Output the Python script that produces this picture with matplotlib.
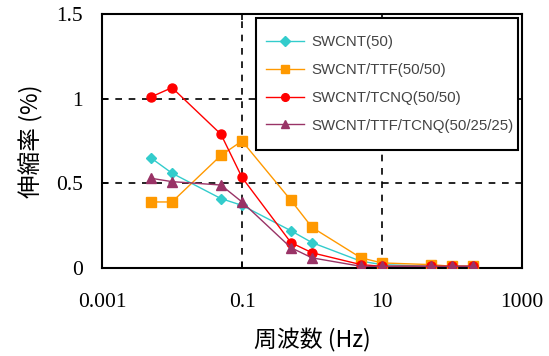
import matplotlib
matplotlib.use("Agg")
import matplotlib.pyplot as plt
from matplotlib.patches import Rectangle
from matplotlib.ticker import FixedLocator, NullLocator, FixedFormatter

freq = [0.005, 0.01, 0.05, 0.1, 0.5, 1, 5, 10, 50, 100, 200]
swcnt = [0.65, 0.56, 0.41, 0.37, 0.22, 0.15, 0.04, 0.02, 0.01, 0.01, 0.01]
swcnt_ttf = [0.39, 0.39, 0.665, 0.75, 0.40, 0.24, 0.06, 0.03, 0.02, 0.01, 0.01]
swcnt_tcnq = [1.01, 1.065, 0.79, 0.535, 0.15, 0.09, 0.02, 0.01, 0.01, 0.01, 0.01]
swcnt_ttf_tcnq = [0.53, 0.51, 0.49, 0.39, 0.12, 0.06, 0.01, 0.01, 0.01, 0.01, 0.01]

series_names = ["SWCNT(50)", "SWCNT/TTF(50/50)", "SWCNT/TCNQ(50/50)", "SWCNT/TTF/TCNQ(50/25/25)"]
xticks = [0.001, 0.1, 10, 1000]
xtick_labels = ["0.001", "0.1", "10", "1000"]
yticks = [0, 0.5, 1, 1.5]
ytick_labels = ["0", "0.5", "1", "1.5"]

W, H = 549, 356
fig = plt.figure(figsize=(W/100, H/100), dpi=100)
ax = fig.add_axes([102/W, 1-268/H, (522-102)/W, (268-14)/H])

styles = [
    dict(color="#33CCCC", marker="D", ms=5.5),
    dict(color="#FF9900", marker="s", ms=7),
    dict(color="#FF0000", marker="o", ms=6.5),
    dict(color="#993366", marker="^", ms=7),
]
for data, name, st in zip([swcnt, swcnt_ttf, swcnt_tcnq, swcnt_ttf_tcnq], series_names, styles):
    ax.plot(freq, data, color=st["color"], marker=st["marker"], ms=st["ms"],
            mec=st["color"], mfc=st["color"], lw=1.0, label=name, zorder=3)

ax.set_xscale("log")
ax.set_xlim(0.001, 1000)
ax.set_ylim(0, 1.5)
ax.xaxis.set_major_locator(FixedLocator(xticks))
ax.xaxis.set_major_formatter(FixedFormatter(xtick_labels))
ax.xaxis.set_minor_locator(NullLocator())
ax.yaxis.set_major_locator(FixedLocator(yticks))
ax.yaxis.set_major_formatter(FixedFormatter(ytick_labels))

ax.grid(True, which="major", color="black", linestyle=(0, (4, 4)), linewidth=1.2, zorder=1)
ax.set_axisbelow(True)

for s in ax.spines.values():
    s.set_linewidth(1.5)
    s.set_color("black")

ax.tick_params(direction="in", length=4, width=1.2, top=True, right=False, labelsize=15.5)
ax.tick_params(axis="x", pad=18)
ax.tick_params(axis="y", pad=14)
for lbl in ax.get_xticklabels() + ax.get_yticklabels():
    lbl.set_fontfamily("Liberation Serif")

ax.set_xlabel("周波数 (Hz)", fontsize=16.5, family=["Noto Sans CJK JP", "DejaVu Sans"], labelpad=12)
ax.set_ylabel("伸縮率 (%)", fontsize=17, family=["Noto Sans CJK JP", "DejaVu Sans"], labelpad=9)

# legend frame
frame = Rectangle((256/W, 1-150/H), (518-256)/W, (150-18)/H, transform=fig.transFigure,
                  facecolor="white", edgecolor="black", linewidth=1.5, zorder=4, clip_on=False)
ax.add_patch(frame)

leg = ax.legend(loc="center left", bbox_to_anchor=(266/W, 1-84/H), bbox_transform=fig.transFigure,
                frameon=False, prop={"family": "Liberation Sans", "size": 10.8},
                handlelength=2.5, handletextpad=0.5, labelspacing=0.92, borderpad=0,
                borderaxespad=0, markerscale=0.85)
for t in leg.get_texts():
    t.set_color("#444444")
leg.set_zorder(5)

fig.savefig("out.png", dpi=100)
